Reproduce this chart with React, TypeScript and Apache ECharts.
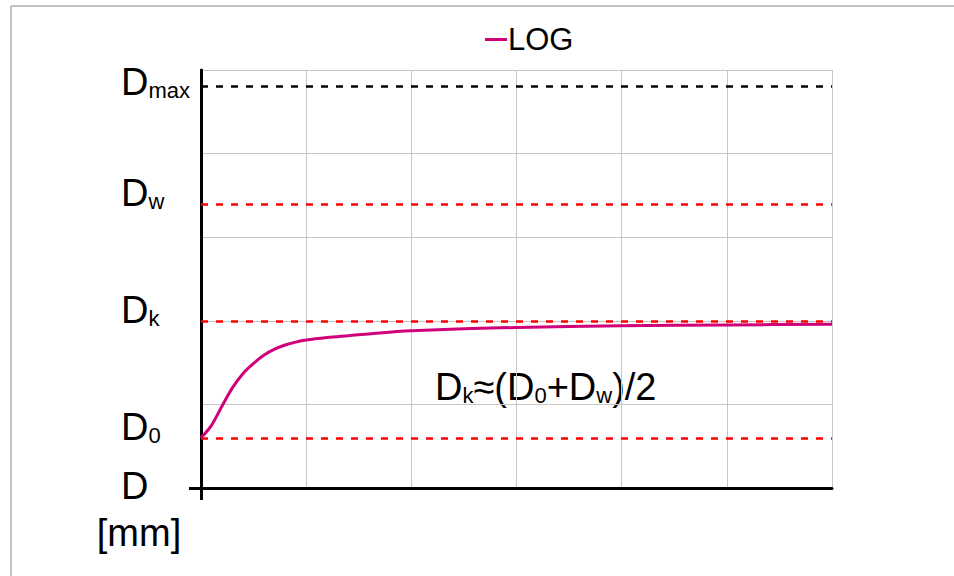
import React, { useEffect, useRef } from "react";
import * as echarts from "echarts";

// Curve (LOG): x in grid units, y in grid units
const curveX = [0, 0.1, 0.2, 0.3, 0.4, 0.5, 0.6, 0.7, 0.8, 0.9, 1.0, 1.2, 1.4, 1.7, 2, 2.5, 3, 4, 5, 6];
const curveY = [0.6, 0.75, 0.98, 1.2, 1.37, 1.49, 1.59, 1.66, 1.71, 1.745, 1.77, 1.8, 1.822, 1.855, 1.88, 1.905, 1.92, 1.94, 1.95, 1.96];

// Y axis levels and their labels
const levelValues = [0, 0.6, 2.0, 3.4, 4.8];
const levelLabels = ["{d0|D}", "{b|D}{s|0}", "{b|D}{s|k}", "{b|D}{s|w}", "{bm|D}{sm|max}"];

// Reference dashed lines
const redLevels = [0.6, 2.0, 3.4];
const blackLevels = [4.8];

// Axis extents
const xMin = 0, xMax = 6, xStep = 1;
const yMin = 0, yMax = 5, yStep = 1;

const seriesName = "LOG";
const annotation = "{b|D}{s|k}{b|≈(D}{s|0}{b|+D}{s|w}{b|)/2}";
const unitLabel = "[mm]";

const FONT = "'Liberation Sans', Arial, Helvetica, sans-serif";
const big = { fontSize: 38, fontFamily: FONT, color: "#000", verticalAlign: "bottom" };
const small = { fontSize: 22, fontFamily: FONT, color: "#000", verticalAlign: "bottom" };
const rich = { b: big, s: small };
const axisRich = {
  b: { ...big, padding: [0, 0, 21, 0] },
  s: { ...small, padding: [0, 0, 21, 0] },
  bm: { ...big, padding: [0, 0, 9, 0] },
  sm: { ...small, padding: [0, 0, 9, 0] },
  d0: { ...big, padding: [0, 0, 5, 0] },
};
const GRID_COLOR = "#c6c6c6";
const CURVE_COLOR = "#cf007a";

export default function App() {
  const ref = useRef<HTMLDivElement>(null);
  useEffect(() => {
    if (!ref.current) return;
    const chart = echarts.init(ref.current, undefined, { renderer: "svg" });
    const data = curveX.map((x, i) => [x, curveY[i]]);
    chart.setOption({
      animation: false,
      backgroundColor: "#fff",
      grid: { left: 201, right: 122, top: 70, bottom: 88, containLabel: false },
      legend: {
        left: 485,
        top: 24,
        padding: 0,
        icon: "rect",
        itemWidth: 22,
        itemHeight: 3,
        data: [seriesName],
        textStyle: { fontSize: 31, fontFamily: FONT, color: "#000", padding: [0, 0, 0, -4] },
      },
      xAxis: [
        {
          type: "value",
          min: xMin,
          max: xMax,
          interval: xStep,
          position: "bottom",
          z: 3,
          axisLine: { show: true, lineStyle: { color: "#000", width: 3 } },
          axisTick: { show: true, length: 12, customValues: [xMin], lineStyle: { color: "#000", width: 3 } },
          axisLabel: { show: false },
          splitLine: { show: false },
        },
        {
          type: "value",
          min: xMin,
          max: xMax,
          interval: xStep,
          position: "top",
          z: 1,
          axisLine: { show: false },
          axisTick: { show: false },
          axisLabel: { show: false },
          splitLine: { show: true, lineStyle: { color: GRID_COLOR, width: 1 } },
        },
      ],
      yAxis: [
        {
          type: "value",
          min: yMin,
          max: yMax,
          interval: yStep,
          position: "left",
          z: 3,
          axisLine: { show: true, lineStyle: { color: "#000", width: 3 } },
          axisTick: { show: true, length: 12, customValues: [yMin], lineStyle: { color: "#000", width: 3 } },
          axisLabel: {
            show: true,
            customValues: levelValues,
            align: "left",
            margin: 80,
            formatter: (v: number) => {
              const idx = levelValues.findIndex((l) => Math.abs(l - v) < 1e-6);
              return idx >= 0 ? levelLabels[idx] : "";
            },
            rich: axisRich,
          },
          splitLine: { show: false },
        },
        {
          type: "value",
          min: yMin,
          max: yMax,
          interval: yStep,
          position: "right",
          z: 1,
          axisLine: { show: false },
          axisTick: { show: false },
          axisLabel: { show: false },
          splitLine: { show: true, lineStyle: { color: GRID_COLOR, width: 1 } },
        },
      ],
      series: [
        {
          name: seriesName,
          type: "line",
          xAxisIndex: 0,
          yAxisIndex: 0,
          data,
          smooth: 0.3,
          symbol: "none",
          z: 5,
          lineStyle: { color: CURVE_COLOR, width: 3 },
          itemStyle: { color: CURVE_COLOR },
          markLine: {
            silent: true,
            symbol: ["none", "none"],
            label: { show: false },
            lineStyle: { type: [7, 8], width: 2.5 },
            data: [
              ...redLevels.map((v) => ({ yAxis: v, lineStyle: { color: "#ff0000", type: [7, 8], width: 2.5 } })),
              ...blackLevels.map((v) => ({ yAxis: v, lineStyle: { color: "#000000", type: [7, 8], width: 2.5 } })),
            ],
          },
        },
      ],
      graphic: [
        {
          type: "rect",
          shape: { x: 11, y: 6, width: 1200, height: 800 },
          style: { fill: "none", stroke: "#888", lineWidth: 1 },
          silent: true,
        },
        {
          type: "text",
          x: 435,
          y: 387,
          style: { text: annotation, rich, align: "left", verticalAlign: "middle" },
        },
        {
          type: "text",
          x: 139,
          y: 533,
          style: { text: unitLabel, fontSize: 38, fontFamily: FONT, fill: "#000", align: "center", verticalAlign: "middle" },
        },
      ],
    });
    return () => chart.dispose();
  }, []);
  return (
    <div
      ref={ref}
      style={{ position: "fixed", left: 0, top: 0, width: 954, height: 576, background: "#fff" }}
    />
  );
}
